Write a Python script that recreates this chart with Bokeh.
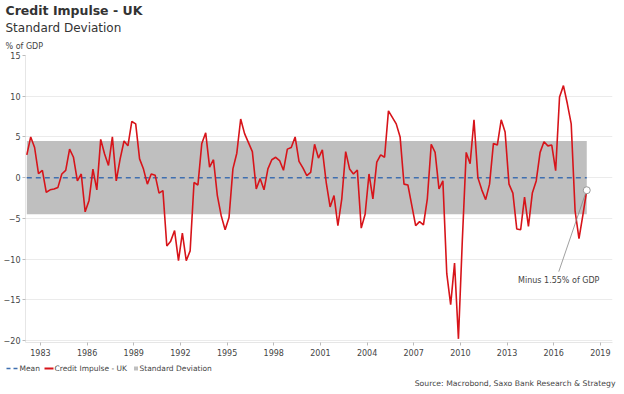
from bokeh.plotting import figure
from bokeh.layouts import column
from bokeh.models import FixedTicker, Range1d, Title
from bokeh.embed import file_html
from bokeh.resources import INLINE

# Quarterly credit impulse, UK (% of GDP), starting 1982 Q1
start_year = 1982
values = [2.8, 5.0, 3.7, 0.5, 0.9, -1.8, -1.5, -1.4, -1.2, 0.45, 0.9, 3.5, 2.5, -0.4, 0.45,
          -4.2, -2.8, 1.05, -1.5, 4.7, 2.9, 1.5, 5.0, -0.4, 2.3, 4.5, 3.9, 6.9, 6.6, 2.3,
          1.05, -0.8, 0.45, 0.3, -1.9, -1.6, -8.4, -7.8, -6.5, -10.2, -6.8, -10.2, -9.0,
          -0.6, -0.9, 4.2, 5.5, 1.3, 2.2, -2.2, -4.7, -6.4, -4.9, 1.07, 3.0, 7.2, 5.4, 4.3,
          3.2, -1.4, -0.1, -1.5, 1.07, 2.2, 2.5, 2.1, 0.9, 3.5, 3.7, 5.0, 2.0, 1.2, 0.25,
          0.65, 4.1, 2.4, 3.4, -0.6, -3.6, -2.2, -5.9, -2.6, 3.2, 1.07, 0.45, 0.94, -6.2,
          -4.5, 0.45, -2.6, 1.9, 2.8, 2.5, 8.2, 7.4, 6.6, 5.0, -0.8, -0.9, -3.4, -5.9, -5.4,
          -5.8, -2.6, 4.1, 3.1, -1.4, -0.4, -11.8, -15.6, -10.5, -19.8, -7.7, 3.1, 1.7, 7.1,
          0.0, -1.5, -2.7, -0.8, 4.2, 4.0, 7.1, 5.6, -0.8, -1.9, -6.3, -6.4, -2.4, -6.0,
          -1.9, -0.4, 3.1, 4.4, 3.9, 4.0, 0.86, 9.9, 11.3, 9.1, 6.6, -4.1, -7.5, -4.6, -1.55]
mean_value = 0.0
std_value = 4.5
x_ticks = [1983, 1986, 1989, 1992, 1995, 1998, 2001, 2004, 2007, 2010, 2013, 2016, 2019]
y_ticks = [15, 10, 5, 0, -5, -10, -15, -20]
annotation_text = "Minus 1.55% of GDP"
legend_labels = ["Mean", "Credit Impulse - UK", "Standard Deviation"]
source_text = "Source: Macrobond, Saxo Bank Research & Strategy"

dates = [start_year + 0.25 * i + 0.125 for i in range(len(values))]

FONT = "DejaVu Sans"
TXT = "#444444"
RED = "#d7141a"
BLUE = "#3f6fb0"
GREY = "#bfbfbf"

p = figure(width=624, height=362, output_backend="svg", toolbar_location=None,
           x_range=Range1d(1982.04, 2019.78), y_range=Range1d(-20.25, 15.0),
           min_border_left=24, min_border_right=12, min_border_top=55, min_border_bottom=20)
p.outline_line_color = None

# band, mean, series
p.quad(left=[dates[0]], right=[dates[-1]], bottom=[mean_value - std_value],
       top=[mean_value + std_value], fill_color=GREY, line_color=None)
p.line([dates[0], dates[-1]], [mean_value, mean_value], line_color=BLUE,
       line_width=1.5, line_dash="5 4")
p.line(dates, values, line_color=RED, line_width=1.6)

# annotation of the last value
lx, ly = dates[-1], values[-1]
p.segment(x0=[lx - 0.1], y0=[ly - 0.5], x1=[lx - 1.8], y1=[ly - 10.0],
          line_color="#888888", line_width=0.8)
p.scatter([lx], [ly], size=7, fill_color="white", line_color="#999999", line_width=1)
p.text(x=[lx - 1.8], y=[ly - 11.1], text=[annotation_text], text_align="center",
       text_baseline="middle", text_font_size="8px", text_color=TXT,
       text_font={"value": FONT})

# axes
p.xaxis.ticker = FixedTicker(ticks=x_ticks)
p.yaxis.ticker = FixedTicker(ticks=y_ticks)
for ax in (p.xaxis[0], p.yaxis[0]):
    ax.major_label_text_font = FONT
    ax.major_label_text_font_size = "8px"
    ax.major_label_text_color = TXT
    ax.axis_line_color = "#e6e6e6"
    ax.major_tick_line_color = "#bbbbbb"
    ax.minor_tick_line_color = None
    ax.major_tick_in = 0
    ax.major_tick_out = 3
p.xaxis.major_label_standoff = 3
p.yaxis.major_label_standoff = 2
p.xgrid.grid_line_color = None
p.ygrid.grid_line_color = "#ebebeb"

# titles (first added sits nearest the frame)
p.add_layout(Title(text="% of GDP", align="left", offset=-20, standoff=9,
                   text_font=FONT, text_font_size="8px", text_color=TXT,
                   text_font_style="normal"), "above")
p.add_layout(Title(text="Standard Deviation", align="left", offset=-20, standoff=2,
                   text_font=FONT, text_font_size="12px", text_color="#333333",
                   text_font_style="normal"), "above")
p.add_layout(Title(text="Credit Impulse - UK", align="left", offset=-20, standoff=0,
                   text_font=FONT, text_font_size="12.5px", text_color="#333333",
                   text_font_style="bold"), "above")

# legend + source strip (pixel coordinates, y measured from the strip's top)
f = figure(width=624, height=32, output_backend="svg", toolbar_location=None,
           x_range=Range1d(0, 624), y_range=Range1d(32, 0),
           min_border=0, min_border_left=0, min_border_right=0,
           min_border_top=0, min_border_bottom=0)
if "frame_align" in f.properties():
    f.frame_align = False
    p.frame_align = False
f.axis.visible = False
f.grid.visible = False
f.outline_line_color = None
ly0 = 6
f.segment(x0=[6], y0=[ly0], x1=[18], y1=[ly0], line_color=BLUE, line_width=1.5,
          line_dash="4 3")
f.segment(x0=[44], y0=[ly0], x1=[53], y1=[ly0], line_color=RED, line_width=2)
f.rect(x=[135.5], y=[ly0], width=4, height=4, fill_color=GREY, line_color=None)
f.text(x=[19, 54, 139], y=[ly0] * 3, text=legend_labels, text_baseline="middle",
       text_font_size="7.5px", text_color=TXT, text_font={"value": FONT})
f.text(x=[615], y=[21], text=[source_text], text_align="right", text_baseline="middle",
       text_font_size="7.7px", text_color=TXT, text_font={"value": FONT})

layout = column(p, f, spacing=0)
open("out.html", "w").write(file_html(layout, INLINE))
